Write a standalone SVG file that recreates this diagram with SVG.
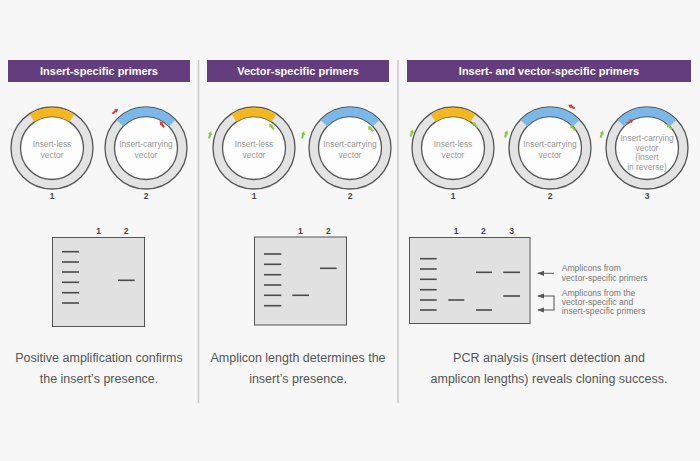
<svg xmlns="http://www.w3.org/2000/svg" xmlns:xlink="http://www.w3.org/1999/xlink" width="700" height="461" viewBox="0 0 700 461">
<style>
.bg{fill:#f7f7f7}
.hdr{fill:#643d7e}
.hdrt{font-family:"Liberation Sans",Arial,sans-serif;font-weight:bold;font-size:11px;fill:#fff;text-anchor:middle}
.div{stroke:#c8c8c8;stroke-width:1.5}
.ring{fill:#e3e3e3;stroke:#555;stroke-width:1.3}
.inner{fill:#fdfdfd;stroke:#555;stroke-width:1.3}
.ins-y{fill:none;stroke:#f3b821;stroke-width:9}
.ins-b{fill:none;stroke:#7bb8e8;stroke-width:9}
.ct{font-family:"Liberation Sans",Arial,sans-serif;font-size:8.4px;fill:#9a9a9a;text-anchor:middle}
.num{font-family:"Liberation Sans",Arial,sans-serif;font-size:8.5px;font-weight:bold;fill:#444;text-anchor:middle}
.gel{fill:#e1e1e1;stroke:#555;stroke-width:1}
.band{stroke:#4a4a4a;stroke-width:1.6}
.note{font-family:"Liberation Sans",Arial,sans-serif;font-size:8.6px;fill:#777}
.cap{font-family:"Liberation Sans",Arial,sans-serif;font-size:12.5px;fill:#555;text-anchor:middle}
.arr{stroke:#555;stroke-width:1;fill:none}
</style>
<defs>
<g id="pr-r"><path d="M-3.5,0 L1.5,0" stroke="#e0392c" stroke-width="2"/><path d="M0.5,-2.2 L4,0 L0.5,2.2Z" fill="#e0392c"/></g>
<g id="pr-g"><path d="M-3.5,0 L1.5,0" stroke="#8cc63f" stroke-width="2"/><path d="M0.5,-2.2 L4,0 L0.5,2.2Z" fill="#8cc63f"/></g>
<marker id="ah" viewBox="0 0 8 8" refX="7" refY="4" markerWidth="7" markerHeight="7" orient="auto" markerUnits="userSpaceOnUse"><path d="M0,1 L8,4 L0,7Z" fill="#555"/></marker>
</defs>
<rect class="bg" x="0" y="0" width="700" height="461"/>

<g id="dividers">
<line class="div" x1="198.5" y1="60" x2="198.5" y2="403"/>
<line class="div" x1="398" y1="60" x2="398" y2="403"/>
</g>

<g id="header1"><rect class="hdr" x="8" y="60" width="182" height="22"/><text class="hdrt" x="99" y="75">Insert-specific primers</text></g>
<g id="header2"><rect class="hdr" x="207" y="60" width="182" height="22"/><text class="hdrt" x="298" y="75">Vector-specific primers</text></g>
<g id="header3"><rect class="hdr" x="407" y="60" width="284" height="22"/><text class="hdrt" x="549" y="75">Insert- and vector-specific primers</text></g>

<!-- Panel 1 plasmids -->
<g id="p1c1">
<circle class="ring" cx="52" cy="148" r="41"/>
<circle class="inner" cx="52" cy="148" r="31.5"/>
<text class="ct" x="52" y="147">Insert-less</text><text class="ct" x="52" y="158">vector</text>
<text class="num" x="52" y="199">1</text>
</g>
<g id="p1c2">
<circle class="ring" cx="146" cy="148" r="41"/>
<circle class="inner" cx="146" cy="148" r="31.5"/>
<text class="ct" x="146" y="147">Insert-carrying</text><text class="ct" x="146" y="158">vector</text>
<text class="num" x="146" y="199">2</text>
</g>

<!-- Panel 2 plasmids -->
<g id="p2c1">
<circle class="ring" cx="254" cy="148" r="41"/>
<circle class="inner" cx="254" cy="148" r="31.5"/>
<text class="ct" x="254" y="147">Insert-less</text><text class="ct" x="254" y="158">vector</text>
<text class="num" x="254" y="199">1</text>
</g>
<g id="p2c2">
<circle class="ring" cx="350" cy="148" r="41"/>
<circle class="inner" cx="350" cy="148" r="31.5"/>
<text class="ct" x="350" y="147">Insert-carrying</text><text class="ct" x="350" y="158">vector</text>
<text class="num" x="350" y="199">2</text>
</g>

<!-- Panel 3 plasmids -->
<g id="p3c1">
<circle class="ring" cx="453" cy="148" r="41"/>
<circle class="inner" cx="453" cy="148" r="31.5"/>
<text class="ct" x="453" y="147">Insert-less</text><text class="ct" x="453" y="158">vector</text>
<text class="num" x="453" y="199">1</text>
</g>
<g id="p3c2">
<circle class="ring" cx="550" cy="148" r="41"/>
<circle class="inner" cx="550" cy="148" r="31.5"/>
<text class="ct" x="550" y="147">Insert-carrying</text><text class="ct" x="550" y="158">vector</text>
<text class="num" x="550" y="199">2</text>
</g>
<g id="p3c3">
<circle class="ring" cx="647" cy="148" r="41"/>
<circle class="inner" cx="647" cy="148" r="31.5"/>
<text class="ct" x="647" y="141">Insert-carrying</text><text class="ct" x="647" y="150.5">vector</text><text class="ct" x="647" y="160">(insert</text><text class="ct" x="647" y="169.5">in reverse)</text>
<text class="num" x="647" y="199">3</text>
</g>

<!-- inserts (drawn over ring) -->
<g id="inserts">
<path class="ins-y" d="M32.1,118.1 A36,36 0 0 1 71.9,118.1"/>
<path class="ins-y" d="M234.1,118.1 A36,36 0 0 1 273.9,118.1"/>
<path class="ins-y" d="M433.1,118.1 A36,36 0 0 1 472.9,118.1"/>
<path class="ins-b" d="M119.8,123.1 A36,36 0 0 1 172.2,123.1"/>
<path class="ins-b" d="M323.8,123.1 A36,36 0 0 1 376.2,123.1"/>
<path class="ins-b" d="M523.8,123.1 A36,36 0 0 1 576.2,123.1"/>
<path class="ins-b" d="M620.8,123.1 A36,36 0 0 1 673.2,123.1"/>
</g>

<g id="primers">
<use xlink:href="#pr-r" transform="translate(115,111.5) rotate(-40)"/>
<use xlink:href="#pr-r" transform="translate(162,124.5) rotate(-124)"/>
<use xlink:href="#pr-g" transform="translate(210,135) rotate(-74)"/>
<use xlink:href="#pr-g" transform="translate(271.7,126.7) rotate(-130)"/>
<use xlink:href="#pr-g" transform="translate(303,135) rotate(-74)"/>
<use xlink:href="#pr-g" transform="translate(370.7,129) rotate(-134)"/>
<use xlink:href="#pr-g" transform="translate(411.7,133.3) rotate(-71)"/>
<use xlink:href="#pr-g" transform="translate(475,125) rotate(-134)"/>
<use xlink:href="#pr-g" transform="translate(506,134.3) rotate(-73)"/>
<use xlink:href="#pr-g" transform="translate(572.7,127.7) rotate(-132)"/>
<use xlink:href="#pr-r" transform="translate(571.7,106.7) rotate(-152)"/>
<use xlink:href="#pr-g" transform="translate(601.7,134.3) rotate(-73)"/>
<use xlink:href="#pr-g" transform="translate(669.3,126.7) rotate(-134)"/>
<use xlink:href="#pr-r" transform="translate(630,121.7) rotate(-33)"/>
</g>

<!-- Gel 1 -->
<g id="gel1">
<text class="num" x="98.5" y="234">1</text><text class="num" x="126" y="234">2</text>
<rect class="gel" x="52.5" y="237.5" width="92" height="89"/>
<g class="band">
<line x1="62" y1="251.7" x2="79" y2="251.7"/><line x1="62" y1="262" x2="79" y2="262"/><line x1="62" y1="272" x2="79" y2="272"/><line x1="62" y1="282.3" x2="79" y2="282.3"/><line x1="62" y1="292.7" x2="79" y2="292.7"/><line x1="62" y1="303" x2="79" y2="303"/>
<line x1="118" y1="280.3" x2="134.7" y2="280.3"/>
</g>
</g>

<!-- Gel 2 -->
<g id="gel2">
<text class="num" x="300.3" y="234">1</text><text class="num" x="328.3" y="234">2</text>
<rect class="gel" x="254.5" y="237" width="92" height="88"/>
<g class="band">
<line x1="264" y1="254" x2="281.3" y2="254"/><line x1="264" y1="264.3" x2="281.3" y2="264.3"/><line x1="264" y1="274.7" x2="281.3" y2="274.7"/><line x1="264" y1="285" x2="281.3" y2="285"/><line x1="264" y1="295.3" x2="281.3" y2="295.3"/><line x1="264" y1="305.7" x2="281.3" y2="305.7"/>
<line x1="292.3" y1="295.3" x2="309" y2="295.3"/>
<line x1="320" y1="268.3" x2="336.7" y2="268.3"/>
</g>
</g>

<!-- Gel 3 -->
<g id="gel3">
<text class="num" x="456" y="234">1</text><text class="num" x="483.3" y="234">2</text><text class="num" x="511.7" y="234">3</text>
<rect class="gel" x="409.5" y="237.5" width="120.5" height="86"/>
<g class="band">
<line x1="420" y1="258.7" x2="436.7" y2="258.7"/><line x1="420" y1="269" x2="436.7" y2="269"/><line x1="420" y1="279.3" x2="436.7" y2="279.3"/><line x1="420" y1="289.7" x2="436.7" y2="289.7"/><line x1="420" y1="300" x2="436.7" y2="300"/><line x1="420" y1="310" x2="436.7" y2="310"/>
<line x1="448.3" y1="300" x2="464.3" y2="300"/>
<line x1="476" y1="272.3" x2="492" y2="272.3"/><line x1="476" y1="310" x2="492" y2="310"/>
<line x1="503.3" y1="272.3" x2="520" y2="272.3"/><line x1="503.3" y1="296" x2="520" y2="296"/>
</g>
</g>

<g id="connectors">
<line class="arr" x1="554" y1="273.3" x2="538" y2="273.3" marker-end="url(#ah)"/>
<path class="arr" d="M554,296 V310"/>
<line class="arr" x1="554.5" y1="296" x2="538" y2="296" marker-end="url(#ah)"/>
<line class="arr" x1="554.5" y1="310" x2="538" y2="310" marker-end="url(#ah)"/>
</g>

<g id="notes">
<text class="note" x="561.7" y="271.3">Amplicons from</text>
<text class="note" x="561.7" y="280.5">vector-specific primers</text>
<text class="note" x="561.7" y="296.3">Amplicons from the</text>
<text class="note" x="561.7" y="305.3">vector-specific and</text>
<text class="note" x="561.7" y="314.3">insert-specific primers</text>
</g>

<g id="captions">
<text class="cap" x="99" y="362">Positive amplification confirms</text>
<text class="cap" x="99" y="383">the insert’s presence.</text>
<text class="cap" x="298" y="362">Amplicon length determines the</text>
<text class="cap" x="298" y="383">insert’s presence.</text>
<text class="cap" x="549" y="362">PCR analysis (insert detection and</text>
<text class="cap" x="549" y="383">amplicon lengths) reveals cloning success.</text>
</g>
</svg>
